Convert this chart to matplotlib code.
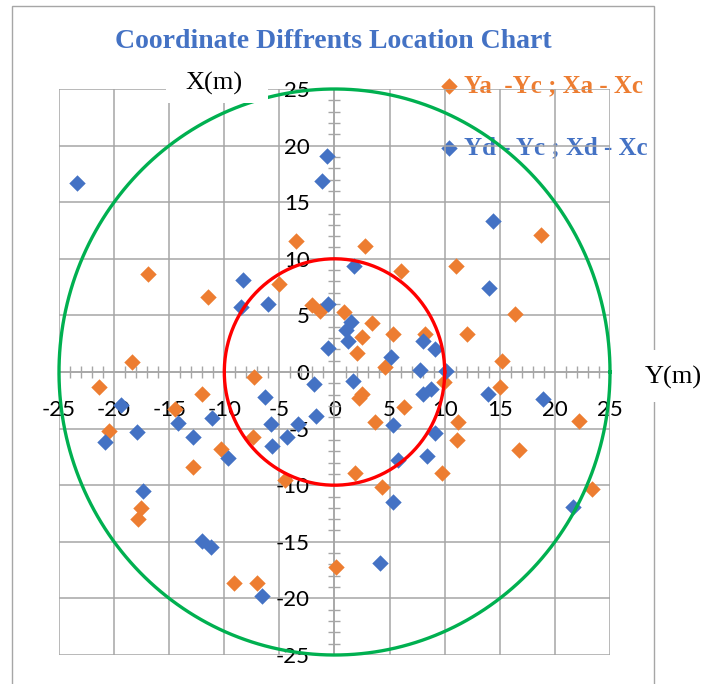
import matplotlib
matplotlib.use("Agg")
import matplotlib.pyplot as plt
import numpy as np
from matplotlib.patches import Rectangle
from matplotlib.ticker import MultipleLocator, FixedLocator

plt.rcParams["axes.unicode_minus"] = False

# horizontal axis = Y difference, vertical axis = X difference
a_dy = [-21.4, -20.5, -18.4, -16.9, -14.5, -12.8, -12.0, -11.5, -10.3, -17.6,
        -17.8, -9.1, -7.0, -7.3, -7.4, -5.0, -3.5, -4.5, -2.0, -1.3,
        0.9, 2.5, 2.0, 3.4, 5.3, 2.8, 6.0, 11.0, 8.2, 12.0,
        16.4, 15.2, 4.6, 2.5, 2.2, 6.3, 3.7, 9.9, 11.2, 11.1,
        1.9, 4.3, 9.8, 15.0, 16.7, 22.2, 23.4, 18.7, 0.1]
a_dx = [-1.3, -5.2, 0.9, 8.7, -3.3, -8.4, -1.9, 6.6, -6.8, -12.0,
        -13.0, -18.6, -18.6, -0.4, -5.7, 7.8, 11.6, -9.5, 5.9, 5.4,
        5.3, 3.1, 1.7, 4.3, 3.4, 11.1, 8.9, 9.4, 3.4, 3.4,
        5.1, 1.0, 0.4, -1.9, -2.3, -3.1, -4.4, -0.9, -4.4, -6.0,
        -8.9, -10.2, -8.9, -1.3, -6.9, -4.3, -10.3, 12.1, -17.2]

d_dy = [-23.4, -0.7, -1.1, -8.3, -8.5, -6.0, -0.6, -0.6, 1.8, 1.5,
        1.0, 1.2, 14.4, 14.0, 8.0, 9.1, 5.1, 7.8, 10.1, 1.7,
        8.0, 8.8, 13.9, 5.3, 9.1, 5.8, 8.4, 5.3, 18.9, 21.6,
        4.1, -1.9, -6.3, -1.7, -11.1, -12.8, -5.8, -5.7, -4.3, -3.3,
        -9.7, -14.2, -17.9, -20.8, -19.4, -17.4, -12.0, -11.2, -6.6]
d_dx = [16.7, 19.1, 16.9, 8.1, 5.7, 6.0, 6.0, 2.1, 9.4, 4.4,
        3.7, 2.7, 13.3, 7.4, 2.7, 2.0, 1.3, 0.2, 0.1, -0.8,
        -1.9, -1.5, -1.9, -4.7, -5.4, -7.8, -7.4, -11.5, -2.4, -11.9,
        -16.9, -1.1, -2.2, -3.9, -4.1, -5.7, -4.6, -6.5, -5.7, -4.6,
        -7.6, -4.5, -5.3, -6.2, -2.9, -10.5, -14.9, -15.5, -19.8]

circle_radii = [10, 25]
circle_colors = ["#FF0000", "#00B050"]
axis_ticks = [-25, -20, -15, -10, -5, 0, 5, 10, 15, 20, 25]
series_labels = ["Ya  -Yc ; Xa - Xc", "Yd - Yc ; Xd - Xc"]
series_colors = ["#ED7D31", "#4472C4"]

W, H = 716, 684


def fx(px):
    return px / W


def fy(py):
    return 1 - py / H


fig = plt.figure(figsize=(W / 100, H / 100), dpi=100)
ax = fig.add_axes([fx(59), fy(655), (610 - 59) / W, (655 - 89) / H])
ax.set_facecolor("none")

# outer chart border
fig.patches.append(Rectangle((fx(12), fy(720)), fx(654) - fx(12), fy(6) - fy(720),
                             transform=fig.transFigure, fill=False,
                             ec="#A6A6A6", lw=1, zorder=-5))

grey = "#A6A6A6"
ax.set_xlim(-25, 25)
ax.set_ylim(-25, 25)
ax.xaxis.set_major_locator(FixedLocator(axis_ticks))
ax.yaxis.set_major_locator(FixedLocator(axis_ticks))
ax.xaxis.set_minor_locator(MultipleLocator(1))
ax.yaxis.set_minor_locator(MultipleLocator(1))
ax.grid(True, which="major", color=grey, lw=1.1, zorder=0)
ax.set_axisbelow(True)

for side in ["top", "right"]:
    ax.spines[side].set_visible(False)
for side in ["left", "bottom"]:
    ax.spines[side].set_position(("data", 0))
    ax.spines[side].set_color(grey)
    ax.spines[side].set_linewidth(1.1)

ax.tick_params(which="major", length=0, labelsize=16)
ax.tick_params(axis="x", which="major", pad=20)
ax.tick_params(axis="y", which="major", pad=18)
ax.tick_params(which="minor", direction="inout", length=9, width=1, color=grey)
for lab in ax.get_xticklabels() + ax.get_yticklabels():
    lab.set_fontfamily("Lato")

s1 = ax.scatter(a_dy, a_dx, marker="D", s=70, color=series_colors[0], lw=0, zorder=3)
s2 = ax.scatter(d_dy, d_dx, marker="D", s=70, color=series_colors[1], lw=0, zorder=3)

t = np.linspace(0, 2 * np.pi, 500)
for r, c in zip(circle_radii, circle_colors):
    ax.plot(r * np.cos(t), r * np.sin(t), color=c, lw=2.4, zorder=4, clip_on=False)

fig.text(fx(333), fy(42), "Coordinate Diffrents Location Chart", ha="center", va="center",
         fontsize=20, fontweight="bold", color="#4472C4", family="Liberation Serif")

leg = fig.legend([s1, s2], series_labels, loc="center left",
                 bbox_to_anchor=(fx(417), fy(117)), frameon=False, scatterpoints=1,
                 handlelength=0.8, handletextpad=0.2, labelspacing=1.55,
                 prop={"family": "Liberation Serif", "weight": "bold", "size": 18})
for txt, c in zip(leg.get_texts(), series_colors):
    txt.set_color(c)
leg.set_zorder(-1)

# axis titles with white boxes like the source chart
fig.patches.append(Rectangle((fx(166), fy(103)), fx(268) - fx(166), fy(62) - fy(103),
                             transform=fig.transFigure, fc="white", ec="none", zorder=2))
fig.text(fx(214), fy(83), "X(m)", ha="center", va="center", fontsize=19,
         family="Liberation Serif", zorder=3)
fig.patches.append(Rectangle((fx(628), fy(402)), fx(716) - fx(628), fy(350) - fy(402),
                             transform=fig.transFigure, fc="white", ec="none", zorder=2))
fig.text(fx(673), fy(377), "Y(m)", ha="center", va="center", fontsize=19,
         family="Liberation Serif", zorder=3)

fig.savefig("out.png", dpi=100)
